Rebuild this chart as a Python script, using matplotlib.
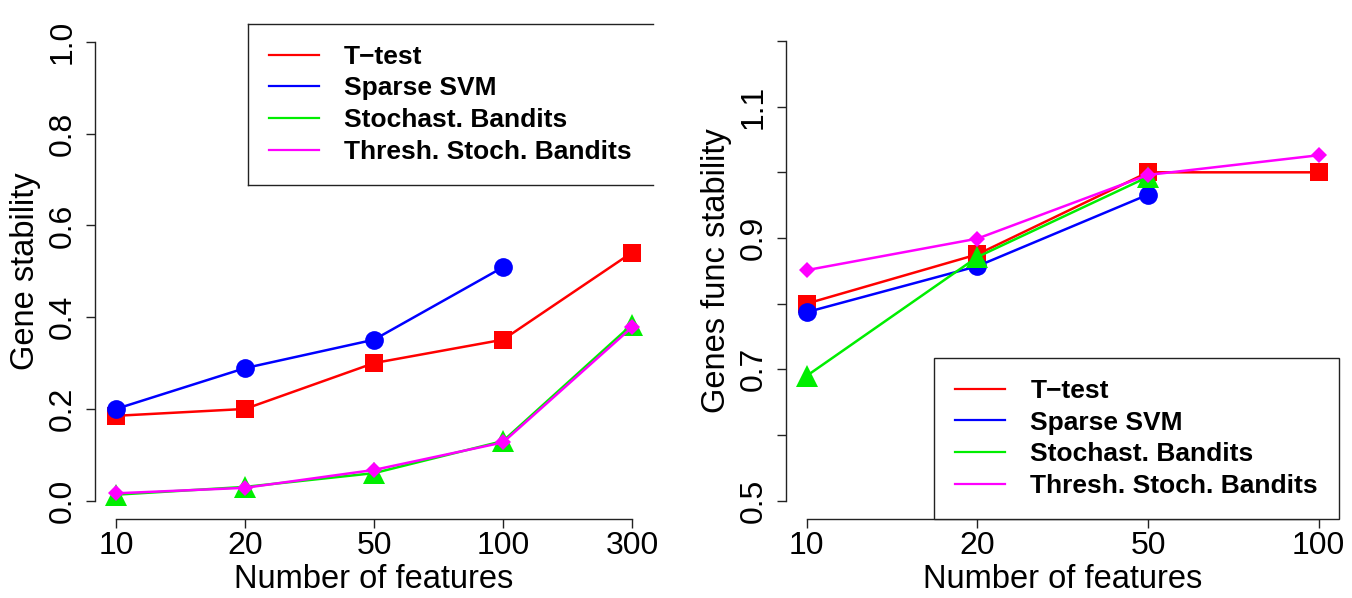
import numpy as np
import matplotlib.pyplot as plt
from matplotlib.lines import Line2D

plt.rcParams['font.family'] = ['Liberation Sans', 'DejaVu Sans']

# left panel: gene stability
left_labels = ['10', '20', '50', '100', '300']
left_ttest = [0.185, 0.20, 0.30, 0.351, 0.541]
left_svm = [0.20, 0.289, 0.351, 0.509]
left_stoch = [0.013, 0.030, 0.060, 0.130, 0.384]
left_thresh = [0.016, 0.028, 0.067, 0.127, 0.378]

# right panel: genes func stability
right_labels = ['10', '20', '50', '100']
right_ttest = [0.80, 0.875, 1.0, 1.0]
right_svm = [0.787, 0.857, 0.966]
right_stoch = [0.690, 0.871, 0.993]
right_thresh = [0.851, 0.899, 0.996, 1.026]

names = ['T\u2212test', 'Sparse SVM', 'Stochast. Bandits', 'Thresh. Stoch. Bandits']
colors = ['#ff0000', '#0000ff', '#00ee00', '#ff00ff']
markers = ['s', 'o', '^', 'D']
msizes = [13, 13.5, 16, 8.5]

TICK_FS = 23
LAB_FS = 23.5
LEG_FS = 19


def draw_panel(ax, labels, series, ylim, yticks, yticklabels, ylabel, leg_loc):
    x = np.arange(1, len(labels) + 1)
    for vals, c, m, ms in zip(series, colors, markers, msizes):
        ax.plot(x[:len(vals)], vals, color=c, lw=1.8, marker=m, ms=ms,
                markeredgewidth=0, clip_on=False, zorder=3)
    n = len(labels)
    pad_x = 0.04 * (n - 1)
    ax.set_xlim(1 - pad_x, n + pad_x)
    pad_y = 0.04 * (ylim[1] - ylim[0])
    ax.set_ylim(ylim[0] - pad_y, ylim[1] + pad_y)

    ax.spines['top'].set_visible(False)
    ax.spines['right'].set_visible(False)
    ax.spines['left'].set_bounds(ylim[0], ylim[1])
    ax.spines['bottom'].set_bounds(1, n)
    for s in ('left', 'bottom'):
        ax.spines[s].set_linewidth(1.0)
        ax.spines[s].set_color('#222222')

    ax.set_xticks(x)
    ax.set_xticklabels(labels, fontsize=TICK_FS)
    ax.set_yticks(yticks)
    ax.set_yticklabels(yticklabels, fontsize=TICK_FS, rotation=90, va='center')
    ax.tick_params(axis='both', length=6.5, width=1.0, color='#222222')
    ax.tick_params(axis='x', pad=2)
    ax.tick_params(axis='y', pad=6)

    ax.set_xlabel('Number of features', fontsize=LAB_FS, labelpad=2)
    ax.set_ylabel(ylabel, fontsize=LAB_FS, labelpad=5)

    handles = [Line2D([], [], color=c, lw=1.6) for c in colors]
    anchor = (1, 1) if leg_loc == 'upper right' else (1, 0)
    leg = ax.legend(handles, names, loc=leg_loc, bbox_to_anchor=anchor,
                    borderaxespad=0, fancybox=False, framealpha=1,
                    edgecolor='#222222', handlelength=1.9, handletextpad=0.95,
                    borderpad=0.8, labelspacing=0.29,
                    prop={'size': LEG_FS, 'weight': 'bold'})
    leg.get_frame().set_linewidth(1.0)
    return leg


fig = plt.figure(figsize=(13.52, 5.98), dpi=100)
ax1 = fig.add_axes([0.0706, 0.1321, 0.4121, 0.8283])
ax2 = fig.add_axes([0.5815, 0.1321, 0.4090, 0.8301])

leg1 = draw_panel(ax1, left_labels, [left_ttest, left_svm, left_stoch, left_thresh],
                  (0.0, 1.0), np.arange(0, 1.01, 0.2),
                  ['0.0', '0.2', '0.4', '0.6', '0.8', '1.0'], 'Gene stability', 'upper right')

rticks = np.round(np.arange(0.5, 1.21, 0.1), 1)
rlabels = [f'{t:.1f}' if i % 2 == 0 else '' for i, t in enumerate(rticks)]
draw_panel(ax2, right_labels, [right_ttest, right_svm, right_stoch, right_thresh],
           (0.5, 1.2), rticks, rlabels, 'Genes func stability', 'lower right')

# the left legend box is open on its right side in the original
fig.canvas.draw()
leg1.get_frame().set_visible(False)
bb = leg1.get_window_extent().transformed(fig.transFigure.inverted())
for xs, ys in [([bb.x0, bb.x1], [bb.y1, bb.y1]),
               ([bb.x0, bb.x1], [bb.y0, bb.y0]),
               ([bb.x0, bb.x0], [bb.y0, bb.y1])]:
    fig.add_artist(Line2D(xs, ys, transform=fig.transFigure, color='#222222', lw=1.0))

fig.savefig('out.png', dpi=100)
